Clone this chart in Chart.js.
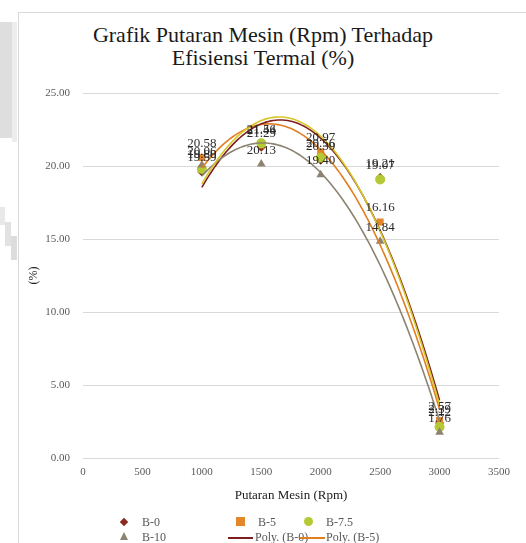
<!DOCTYPE html>
<html>
<head>
<meta charset="utf-8">
<script src="https://cdn.jsdelivr.net/npm/chart.js@4.4.1/dist/chart.umd.min.js"></script>
<style>
  html, body { margin: 0; padding: 0; background: #fff; }
  #wrap { position: relative; width: 526px; height: 543px; overflow: hidden; }
  #frame { position: absolute; left: 18px; top: 12px; width: 520px; height: 540px; border: 1px solid #d9d9d9; box-sizing: border-box; }
  .shade { position: absolute; }
  canvas { position: absolute; left: 0; top: 0; }
  .ttl { position: absolute; left: 18px; width: 490px; text-align: center; font-family: "Liberation Serif", "Times New Roman", serif; font-size: 22px; line-height: 24px; color: #1a1a1a; white-space: nowrap; }
  .leg { position: absolute; font-family: "Liberation Serif", "Times New Roman", serif; font-size: 12px; color: #595959; line-height: 14px; white-space: nowrap; }
  .mk { position: absolute; }
</style>
</head>
<body>
<div id="wrap">
  <!-- grey page edge to the left of the chart frame -->
  <div class="shade" style="left:0;top:22px;width:12px;height:116px;background:#dedede"></div>
  <div class="shade" style="left:12px;top:22px;width:5px;height:120px;background:#ededed"></div>
  <div class="shade" style="left:0;top:207px;width:5px;height:18px;background:#e9e9e9"></div>
  <div class="shade" style="left:5px;top:222px;width:6px;height:24px;background:#e2e2e2"></div>
  <div class="shade" style="left:11px;top:236px;width:6px;height:24px;background:#dcdcdc"></div>
  <div id="frame"></div>
  <div class="ttl" style="top:23px">Grafik Putaran Mesin (Rpm) Terhadap</div>
  <div class="ttl" style="top:46px">Efisiensi Termal (%)</div>
  <canvas id="c" width="526" height="543"></canvas>

  <!-- legend -->
  <div class="mk" style="left:121px;top:519px;width:6px;height:6px;background:#8B2A1E;transform:rotate(45deg)"></div>
  <div class="leg" style="left:142px;top:515px">B-0</div>
  <div class="mk" style="left:236px;top:517px;width:9px;height:9px;background:#E2872A"></div>
  <div class="leg" style="left:258px;top:515px">B-5</div>
  <div class="mk" style="left:304px;top:517px;width:9px;height:9px;border-radius:50%;background:#B5C935"></div>
  <div class="leg" style="left:326px;top:515px">B-7.5</div>
  <div class="mk" style="left:120px;top:532px;width:0;height:0;border-left:4.5px solid transparent;border-right:4.5px solid transparent;border-bottom:8px solid #8C8471"></div>
  <div class="leg" style="left:142px;top:530px">B-10</div>
  <div class="mk" style="left:228px;top:537px;width:25px;height:1.5px;background:#7E1E1E"></div>
  <div class="leg" style="left:255px;top:530px">Poly. (B-0)</div>
  <div class="mk" style="left:300px;top:537px;width:25px;height:1.5px;background:#E07E22"></div>
  <div class="leg" style="left:326px;top:530px">Poly. (B-5)</div>
</div>
<script>
// Engine speed (rpm) and thermal efficiency (%) for each fuel blend
const rpm = [1000, 1500, 2000, 2500, 3000];
const effB0 = [19.59, 21.29, 20.39, 19.21, 2.39];
const effB5 = [20.58, 21.44, 20.97, 16.16, 2.57];
const effB75 = [19.80, 21.56, 20.56, 19.07, 2.12];
const effB10 = [20.06, 20.13, 19.40, 14.84, 1.76];
const yTicks = [0, 5, 10, 15, 20, 25];
const xTicks = [0, 500, 1000, 1500, 2000, 2500, 3000, 3500];

const serif = '"Liberation Serif", "Times New Roman", serif';

// Second-order least-squares fit (like a spreadsheet polynomial trendline)
function quadFit(xs, ys) {
  let S = [0, 0, 0, 0, 0], T = [0, 0, 0];
  for (let i = 0; i < xs.length; i++) {
    const x = xs[i] / 1000, y = ys[i];
    for (let k = 0; k < 5; k++) S[k] += Math.pow(x, k);
    for (let k = 0; k < 3; k++) T[k] += y * Math.pow(x, k);
  }
  const A = [[S[0], S[1], S[2], T[0]], [S[1], S[2], S[3], T[1]], [S[2], S[3], S[4], T[2]]];
  for (let i = 0; i < 3; i++) {
    for (let j = i + 1; j < 3; j++) {
      const f = A[j][i] / A[i][i];
      for (let k = i; k < 4; k++) A[j][k] -= f * A[i][k];
    }
  }
  const c = [0, 0, 0];
  for (let i = 2; i >= 0; i--) {
    let s = A[i][3];
    for (let k = i + 1; k < 3; k++) s -= A[i][k] * c[k];
    c[i] = s / A[i][i];
  }
  return x => { const t = x / 1000; return c[0] + c[1] * t + c[2] * t * t; };
}
function trend(ys) {
  const f = quadFit(rpm, ys), pts = [];
  for (let x = rpm[0]; x <= rpm[rpm.length - 1]; x += 20) pts.push({ x: x, y: f(x) });
  return pts;
}
const pts = ys => rpm.map((x, i) => ({ x: x, y: ys[i] }));

const colB0 = '#8B2A1E', colB5 = '#E2872A', colB75 = '#B5C935', colB10 = '#8C8471';

function lineSet(label, ys, color, order) {
  return { type: 'line', label: label, data: trend(ys), borderColor: color, borderWidth: 1.6,
    pointRadius: 0, fill: false, tension: 0, order: order, isTrend: true };
}
function markSet(label, ys, color, style, r, order) {
  return { type: 'scatter', label: label, data: pts(ys), backgroundColor: color, borderColor: color,
    pointStyle: style, pointRadius: r, pointBorderWidth: 0, order: order };
}

// Value labels above each marker
const valueLabels = {
  id: 'valueLabels',
  afterDatasetsDraw(chart) {
    const ctx = chart.ctx;
    ctx.save();
    ctx.font = '13px ' + serif;
    ctx.fillStyle = '#2b2b2b';
    ctx.textAlign = 'center';
    ctx.textBaseline = 'middle';
    chart.data.datasets.forEach((ds, di) => {
      if (ds.isTrend) return;
      chart.getDatasetMeta(di).data.forEach((el, i) => {
        ctx.fillText(ds.data[i].y.toFixed(2), el.x, el.y - 14);
      });
    });
    ctx.restore();
  }
};

new Chart(document.getElementById('c'), {
  data: {
    datasets: [
      markSet('B-0', effB0, colB0, 'rectRot', 4.5, 13),
      markSet('B-5', effB5, colB5, 'rect', 5, 12),
      markSet('B-7.5', effB75, colB75, 'circle', 5, 11),
      markSet('B-10', effB10, colB10, 'triangle', 5, 10),
      lineSet('Poly. (B-0)', effB0, '#7E1E1E', 3),
      lineSet('Poly. (B-5)', effB5, '#E07E22', 4),
      lineSet('Poly. (B-7.5)', effB75, '#D6C628', 1),
      lineSet('Poly. (B-10)', effB10, '#8C8471', 2)
    ]
  },
  options: {
    responsive: false,
    animation: false,
    layout: { padding: { top: 93, left: 27, right: 27, bottom: 36 } },
    plugins: { legend: { display: false }, title: { display: false }, tooltip: { enabled: false } },
    scales: {
      x: {
        type: 'linear', min: 0, max: 3500,
        afterBuildTicks: s => { s.ticks = xTicks.map(v => ({ value: v })); },
        afterFit: s => { s.height = 49; },
        grid: { display: false, drawTicks: false },
        border: { display: false },
        ticks: { color: '#595959', font: { family: serif, size: 11 }, padding: 8, callback: v => String(v) },
        title: { display: true, text: 'Putaran Mesin (Rpm)', color: '#1a1a1a', font: { family: serif, size: 13 }, padding: { top: 4, bottom: 4 } }
      },
      y: {
        type: 'linear', min: 0, max: 25,
        afterBuildTicks: s => { s.ticks = yTicks.map(v => ({ value: v })); },
        afterFit: s => { s.width = 56; },
        grid: { color: '#d9d9d9', lineWidth: 1, drawTicks: false },
        border: { display: false },
        ticks: { color: '#595959', font: { family: serif, size: 11 }, padding: 13, callback: v => v.toFixed(2) },
        title: { display: true, text: '(%)', color: '#1a1a1a', font: { family: serif, size: 12 }, padding: 0 }
      }
    }
  },
  plugins: [valueLabels]
});
</script>
</body>
</html>
